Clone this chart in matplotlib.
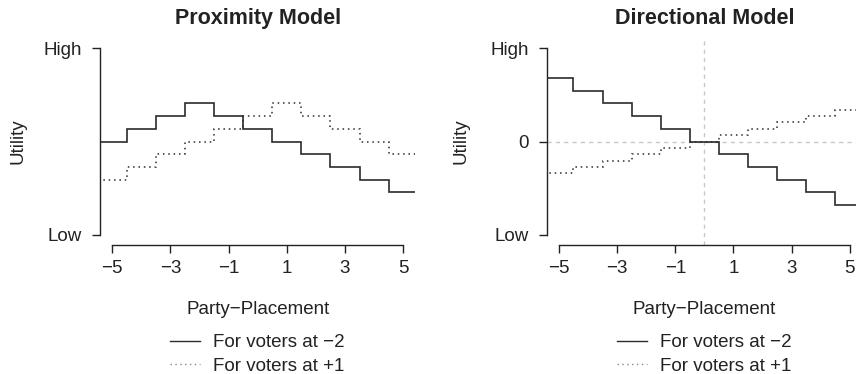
"""
Proximity vs directional utility step plots for two voters.
"""

import numpy as np
import matplotlib.pyplot as plt
from matplotlib.lines import Line2D

plt.rcParams["font.family"] = ["Liberation Sans", "DejaVu Sans"]

# party placements (-5 .. 5)
placements = [-5, -4, -3, -2, -1, 0, 1, 2, 3, 4, 5]

# utility (units: one step)
prox_voter_m2 = [0, 1, 2, 3, 2, 1, 0, -1, -2, -3, -4]
prox_voter_p1 = [-3, -2, -1, 0, 1, 2, 3, 2, 1, 0, -1]
dir_voter_m2 = [5, 4, 3, 2, 1, 0, -1, -2, -3, -4, -5]
dir_voter_p1 = [-2.5, -2, -1.5, -1, -0.5, 0, 0.5, 1, 1.5, 2, 2.5]

x_ticks = [-5, -3, -1, 1, 3, 5]
x_ticklabels = ["\u22125", "\u22123", "\u22121", "1", "3", "5"]
y_high = 7.33
y_low = -7.33

legend_labels = ["For voters at \u22122", "For voters at +1"]

TEXT = "#222222"
LINE = "#2b2b2b"
REF = "#c8c8c8"
DPI = 100


def style_axis(ax, title, yticks, yticklabels, ylabelpad=12):
    ax.set_xlim(-5.42, 5.42)
    ax.set_ylim(-8.15, 8.15)
    ax.spines[["top", "right"]].set_visible(False)
    for side in ("left", "bottom"):
        ax.spines[side].set_color(TEXT)
        ax.spines[side].set_linewidth(1.0)
    ax.spines["left"].set_bounds(y_low, y_high)
    ax.spines["bottom"].set_bounds(-5, 5)
    ax.set_xticks(x_ticks)
    ax.set_xticklabels(x_ticklabels)
    ax.set_yticks(yticks)
    ax.set_yticklabels(yticklabels)
    ax.tick_params(axis="both", direction="out", length=6, width=1.0,
                   color=TEXT, labelcolor=TEXT, labelsize=13.5)
    ax.tick_params(axis="x", pad=5)
    ax.tick_params(axis="y", pad=7)
    ax.set_title(title, fontsize=15.5, fontweight="bold", color=TEXT, pad=10)
    ax.set_ylabel("Utility", fontsize=13.5, color=TEXT, labelpad=ylabelpad)
    ax.set_xlabel("Party\u2212Placement", fontsize=13.5, color=TEXT, labelpad=17)

    handles = [
        Line2D([], [], color=LINE, lw=1.0),
        Line2D([], [], color="#888888", lw=1.0, linestyle=(0, (1, 2.5))),
    ]
    ax.legend(handles, legend_labels, loc="upper center",
              bbox_to_anchor=(0.5, -0.385), frameon=False, fontsize=13.5,
              handlelength=1.6, handletextpad=0.7, labelspacing=0.35,
              labelcolor=TEXT, borderpad=0)


def main():
    fig = plt.figure(figsize=(856 / DPI, 374 / DPI), dpi=DPI)
    edges = np.arange(-5.5, 6.0, 1.0)

    # left: proximity
    ax1 = fig.add_axes([100 / 856, 129 / 374, 315.4 / 856, 207 / 374])
    ax1.stairs(prox_voter_m2, edges, baseline=None, color=LINE, lw=1.2)
    ax1.stairs(prox_voter_p1, edges, baseline=None, color=LINE, lw=1.1,
               linestyle=(0, (1, 2.5)))
    style_axis(ax1, "Proximity Model", [y_low, y_high], ["Low", "High"])

    # right: directional
    ax2 = fig.add_axes([546.7 / 856, 129 / 374, 315.4 / 856, 207 / 374])
    ax2.axhline(0, color=REF, lw=1.0, linestyle=(0, (3, 3)), zorder=1)
    ax2.axvline(0, color=REF, lw=1.0, linestyle=(0, (3, 3)), zorder=1)
    ax2.stairs(dir_voter_m2, edges, baseline=None, color=LINE, lw=1.2, zorder=3)
    ax2.stairs(dir_voter_p1, edges, baseline=None, color=LINE, lw=1.1,
               linestyle=(0, (1, 2.5)), zorder=3)
    style_axis(ax2, "Directional Model", [y_low, 0, y_high], ["Low", "0", "High"],
               ylabelpad=15)

    fig.savefig("out.png", dpi=DPI)
    plt.close(fig)


if __name__ == "__main__":
    main()
